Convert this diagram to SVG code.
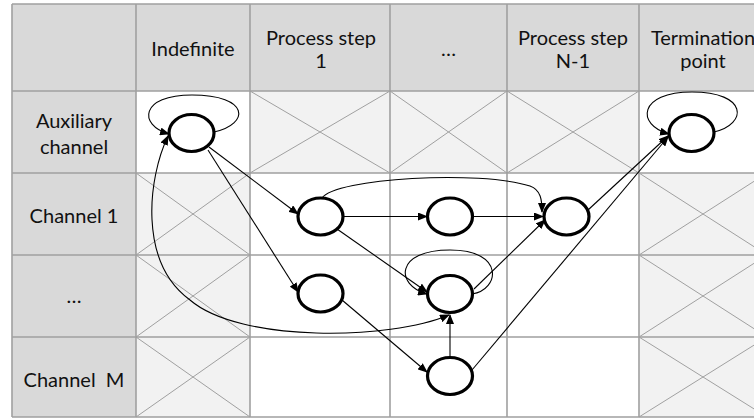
<svg xmlns="http://www.w3.org/2000/svg" width="754" height="420" viewBox="0 0 754 420">
  <style>
    .hdr { fill: #d9d9d9; }
    .blank { fill: #ffffff; }
    .na { fill: #f2f2f2; }
    .cross { stroke: #a0a0a0; stroke-width: 1; fill: none; }
    .grid { stroke: #a0a0a0; stroke-width: 1.6; fill: none; }
    .lbl { font-family: Lato, "Liberation Sans", sans-serif; font-size: 20px; fill: #111; text-anchor: middle; }
    .edge { stroke: #000; stroke-width: 1.1; fill: none; marker-end: url(#arrow); }
    .state { fill: #fff; stroke: #000; stroke-width: 3.2; }
  </style>
  <defs>
    <marker id="arrow" markerUnits="userSpaceOnUse" markerWidth="10" markerHeight="8" refX="9" refY="4" orient="auto-start-reverse">
      <path d="M0,0 L10,4 L0,8 z" fill="#000"/>
    </marker>
  </defs>

  <!-- table background -->
  <g id="table">
    <rect class="blank" x="12" y="4" width="755" height="413"/>
    <rect class="hdr" x="12" y="4" width="755" height="87"/>
    <rect class="hdr" x="12" y="4" width="124" height="413"/>

    <!-- unavailable cells (shaded with a cross) -->
    <rect class="na" x="250" y="91" width="140" height="82"/>
    <rect class="na" x="390" y="91" width="117" height="82"/>
    <rect class="na" x="507" y="91" width="132" height="82"/>
    <rect class="na" x="136" y="173" width="114" height="244"/>
    <rect class="na" x="639" y="173" width="128" height="244"/>
    <path class="cross" d="
      M250,91 L390,173 M390,91 L250,173
      M390,91 L507,173 M507,91 L390,173
      M507,91 L639,173 M639,91 L507,173
      M136,173 L250,255 M250,173 L136,255
      M136,255 L250,337 M250,255 L136,337
      M136,337 L250,417 M250,337 L136,417
      M639,173 L767,255 M767,173 L639,255
      M639,255 L767,337 M767,255 L639,337
      M639,337 L767,417 M767,337 L639,417"/>

    <!-- grid lines -->
    <path class="grid" d="
      M12,4 L767,4 M12,91 L767,91 M12,173 L767,173 M12,255 L767,255 M12,337 L767,337 M12,417 L767,417
      M12,4 L12,417 M136,4 L136,417 M250,4 L250,417 M390,4 L390,417 M507,4 L507,417 M639,4 L639,417"/>
  </g>

  <!-- column headers -->
  <g id="headers">
    <text class="lbl" x="193" y="56">Indefinite</text>
    <text class="lbl" x="321" y="45">Process step</text>
    <text class="lbl" x="321" y="68">1</text>
    <text class="lbl" x="448.5" y="56">…</text>
    <text class="lbl" x="573" y="45">Process step</text>
    <text class="lbl" x="573" y="68">N-1</text>
    <text class="lbl" x="703" y="45">Termination</text>
    <text class="lbl" x="703" y="68">point</text>
  </g>

  <!-- row headers -->
  <g id="rows">
    <text class="lbl" x="74" y="128">Auxiliary</text>
    <text class="lbl" x="74" y="154">channel</text>
    <text class="lbl" x="74" y="223">Channel 1</text>
    <text class="lbl" x="74" y="303">…</text>
    <text class="lbl" x="74" y="387" xml:space="preserve">Channel  M</text>
  </g>

  <!-- transitions -->
  <g id="connectors">
    <path class="edge" d="M214,132 C250,124 250,95 192,95 C140,95 138,125 169,134"/>
    <path class="edge" d="M209,147 L298,214"/>
    <path class="edge" d="M208,150 L298,292"/>
    <path class="edge" style="marker-start:url(#arrow)" d="M168,136 C148,178 138,262 190,300 C240,343 390,340 449,315"/>
    <path class="edge" d="M343,216.5 L427,216.5"/>
    <path class="edge" d="M472.5,216.5 L543,216.5"/>
    <path class="edge" d="M322,198 C335,178 480,170 530,186 C541,190 542,200 542,212"/>
    <path class="edge" d="M337,229 L427,292"/>
    <path class="edge" d="M474,289 L545,220"/>
    <path class="edge" d="M472,294 C500,290 505,250 450,250 C395,250 395,285 427,294"/>
    <path class="edge" d="M342,300 L427,372"/>
    <path class="edge" d="M450,357.5 L450,315"/>
    <path class="edge" d="M472,370 L668,137"/>
    <path class="edge" d="M588,210 L668,136"/>
    <path class="edge" d="M714,132 C748,124 748,92 692,92 C638,92 636,125 669,134"/>
  </g>

  <!-- states -->
  <g id="node-aux"><ellipse class="state" cx="191.5" cy="133" rx="22.5" ry="18.5"/></g>
  <g id="node-term"><ellipse class="state" cx="691.5" cy="133" rx="22.5" ry="18.5"/></g>
  <g id="node-c1-s1"><ellipse class="state" cx="320.5" cy="216.5" rx="22.5" ry="18.5"/></g>
  <g id="node-c1-mid"><ellipse class="state" cx="450" cy="216.5" rx="22.5" ry="18.5"/></g>
  <g id="node-c1-sn"><ellipse class="state" cx="566.5" cy="216.5" rx="22.5" ry="18.5"/></g>
  <g id="node-cx-s1"><ellipse class="state" cx="320.5" cy="293.5" rx="22.5" ry="18.5"/></g>
  <g id="node-cx-mid"><ellipse class="state" cx="450" cy="294" rx="22.5" ry="18.5"/></g>
  <g id="node-cm-mid"><ellipse class="state" cx="450" cy="376" rx="22.5" ry="18.5"/></g>
</svg>
